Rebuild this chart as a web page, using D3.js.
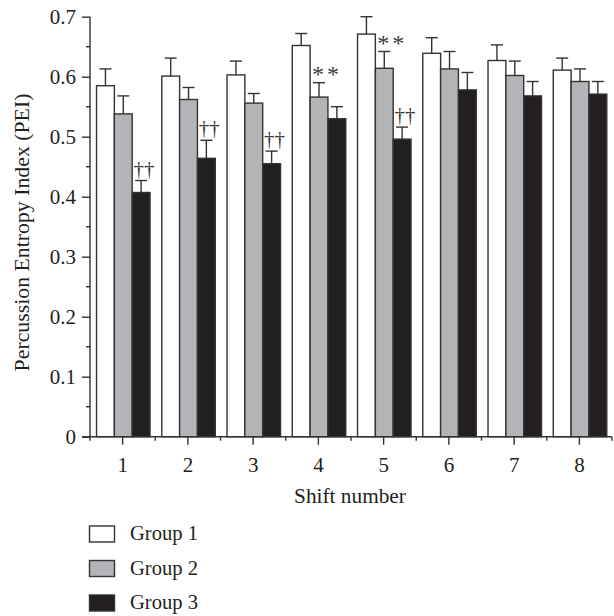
<!DOCTYPE html>
<html>
<head>
<meta charset="utf-8">
<script src="https://cdn.jsdelivr.net/npm/d3@7"></script>
<style>
  html, body { margin: 0; padding: 0; background: #fff; }
  svg { display: block; }
  text { font-family: "Liberation Serif", "DejaVu Serif", serif; fill: #231f20; }
</style>
</head>
<body>
<svg id="chart" width="614" height="616"></svg>
<script>
// ---- data ----
const categories = ["1", "2", "3", "4", "5", "6", "7", "8"];
const groups = ["Group 1", "Group 2", "Group 3"];
const group1 = [0.585, 0.601, 0.603, 0.652, 0.671, 0.639, 0.627, 0.611];
const group2 = [0.538, 0.562, 0.556, 0.566, 0.614, 0.613, 0.602, 0.592];
const group3 = [0.407, 0.464, 0.455, 0.530, 0.496, 0.578, 0.568, 0.571];
const err1 = [0.028, 0.030, 0.023, 0.020, 0.029, 0.026, 0.026, 0.020];
const err2 = [0.030, 0.020, 0.016, 0.024, 0.028, 0.029, 0.024, 0.021];
const err3 = [0.020, 0.030, 0.021, 0.020, 0.020, 0.029, 0.024, 0.021];
const marks2 = ["", "", "", "**", "**", "", "", ""];
const marks3 = ["††", "††", "††", "", "††", "", "", ""];
const yTicks = [0, 0.1, 0.2, 0.3, 0.4, 0.5, 0.6, 0.7];
const yMinorTicks = [0.05, 0.15, 0.25, 0.35, 0.45, 0.55, 0.65];
const fills = ["#ffffff", "#b3b4b7", "#231f20"];
const yLabel = "Percussion Entropy Index (PEI)";
const xLabel = "Shift number";

const values = [group1, group2, group3];
const errors = [err1, err2, err3];
const marks = [[], marks2, marks3];

// ---- layout ----
const svg = d3.select("#chart");
const pLeft = 90, pRight = 612, pTop = 16.7, pBottom = 436.7;
const axisColor = "#333333";
const fs = 21;

const x = d3.scaleBand().domain(categories).range([pLeft, pRight]).paddingInner(0).paddingOuter(0);
const bw = x.bandwidth();
const x1 = d3.scaleBand().domain(groups).range([bw * 0.1, bw * 0.92]).padding(0);
const y = d3.scaleLinear().domain([0, 0.7]).range([pBottom, pTop]);

const data = [];
categories.forEach((c, i) => {
  groups.forEach((g, j) => {
    data.push({ c, g, j, v: values[j][i], e: errors[j][i], m: (marks[j][i] || "") });
  });
});
const cx = d => x(d.c) + x1(d.g) + x1.bandwidth() / 2;

const gBars = svg.append("g");
const eb = gBars.selectAll("g.err").data(data).join("g").attr("class", "err");
eb.append("line")
  .attr("x1", cx).attr("x2", cx)
  .attr("y1", d => y(d.v))
  .attr("y2", d => y(d.v + d.e))
  .attr("stroke", axisColor).attr("stroke-width", 1.4);
eb.append("line")
  .attr("x1", d => cx(d) - 6)
  .attr("x2", d => cx(d) + 6)
  .attr("y1", d => y(d.v + d.e))
  .attr("y2", d => y(d.v + d.e))
  .attr("stroke", axisColor).attr("stroke-width", 1.4);

gBars.selectAll("rect.bar").data(data).join("rect").attr("class", "bar")
  .attr("x", d => x(d.c) + x1(d.g))
  .attr("y", d => y(d.v))
  .attr("width", x1.bandwidth())
  .attr("height", d => y(0) - y(d.v))
  .attr("fill", d => fills[d.j])
  .attr("stroke", axisColor).attr("stroke-width", 1.4);

// significance marks
const daggers = data.filter(d => d.m === "††");
const stars = data.filter(d => d.m === "**");
const gMarks = svg.append("g").attr("transform", "rotate(0.001)");
gMarks.selectAll("text.dag").data(daggers).join("text").attr("class", "dag")
  .attr("x", d => cx(d) + 3)
  .attr("y", d => y(d.v + d.e) - 5)
  .attr("text-anchor", "middle")
  .attr("font-size", 21)
  .style("fill", "#3a3a3a")
  .text(d => d.m);
gMarks.selectAll("text.star").data(stars).join("text").attr("class", "star")
  .attr("x", d => cx(d) + 8)
  .attr("y", d => y(d.v + d.e) - 0.5)
  .attr("text-anchor", "middle")
  .attr("font-size", 24)
  .attr("letter-spacing", 3)
  .style("fill", "#3a3a3a")
  .text(d => d.m);

// y axis
const yAxis = svg.append("g").attr("transform", `translate(${pLeft},0)`)
  .call(d3.axisLeft(y).tickValues(yTicks).tickSize(8).tickPadding(6)
    .tickFormat(d => d === 0 ? "0" : d3.format(".1f")(d)));
yAxis.select(".domain").attr("stroke", axisColor).attr("stroke-width", 1.4).attr("d", `M0,${pBottom}V${pTop}`);
yAxis.selectAll(".tick line").attr("stroke", axisColor).attr("stroke-width", 1.4);
yAxis.selectAll(".tick text").attr("font-size", fs).attr("font-family", "Liberation Serif").style("fill", "#231f20");
svg.append("g").selectAll("line").data(yMinorTicks).join("line")
  .attr("x1", pLeft - 4).attr("x2", pLeft)
  .attr("y1", d => y(d)).attr("y2", d => y(d))
  .attr("stroke", axisColor).attr("stroke-width", 1.4);

// x axis
const xAxis = svg.append("g").attr("transform", `translate(0,${pBottom})`)
  .call(d3.axisBottom(x).tickSize(8).tickPadding(12));
xAxis.select(".domain").attr("stroke", axisColor).attr("stroke-width", 1.4).attr("d", `M${pLeft - 8},0H${pRight}`);
xAxis.selectAll(".tick line").attr("stroke", axisColor).attr("stroke-width", 1.4);
xAxis.selectAll(".tick text").attr("font-size", fs).attr("font-family", "Liberation Serif").style("fill", "#231f20");
const boundaries = [pLeft].concat(categories.map(c => x(c) + bw));
svg.append("g").selectAll("line").data(boundaries).join("line")
  .attr("x1", d => d).attr("x2", d => d)
  .attr("y1", pBottom).attr("y2", pBottom + 4)
  .attr("stroke", axisColor).attr("stroke-width", 1.4);

// axis labels
svg.append("text")
  .attr("transform", `translate(29,232.5) rotate(-90)`)
  .attr("text-anchor", "middle").attr("font-size", 21.8)
  .text(yLabel);
svg.append("text")
  .attr("x", 350).attr("y", 503)
  .attr("text-anchor", "middle").attr("font-size", 21.3)
  .text(xLabel);

// legend
const leg = svg.append("g").selectAll("g").data(groups).join("g")
  .attr("transform", (d, i) => `translate(89.5,${526 + i * 34.5})`);
leg.append("rect").attr("width", 25).attr("height", 16)
  .attr("fill", (d, i) => fills[i]).attr("stroke", axisColor).attr("stroke-width", 1.4);
leg.append("text").attr("x", 40.5).attr("y", 14).attr("font-size", 20.6).text(d => d);
</script>
</body>
</html>
